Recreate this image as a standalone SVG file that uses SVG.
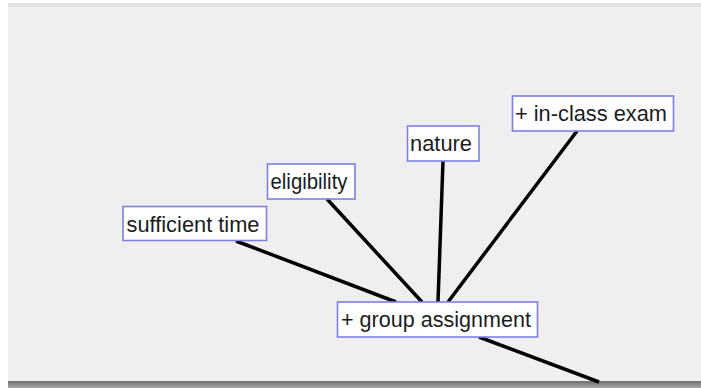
<svg xmlns="http://www.w3.org/2000/svg" width="701" height="388" viewBox="0 0 701 388">
<defs>
<linearGradient id="lsh" x1="0" y1="0" x2="1" y2="0">
<stop offset="0" stop-color="#ffffff"/>
<stop offset="1" stop-color="#d6d6d6"/>
</linearGradient>
<linearGradient id="bsh" x1="0" y1="0" x2="0" y2="1">
<stop offset="0" stop-color="#6e6e6e"/>
<stop offset="1" stop-color="#a8a8a8"/>
</linearGradient>
</defs>
<style>
.box{fill:#ffffff;stroke:#7f7fe0;stroke-width:1.6}
.lbl{font-family:"Liberation Sans",Arial,sans-serif;font-size:22.5px;fill:#1c1c1c}
.edge{stroke:#000000;stroke-width:3.5;stroke-linecap:butt;fill:none}
</style>
<rect x="0" y="0" width="701" height="388" fill="#ffffff"/>
<rect x="3" y="3" width="698" height="382" fill="url(#lsh)"/>
<rect x="8" y="3" width="693" height="5" fill="#e2e2e2"/>
<rect x="8" y="7" width="693" height="375" fill="#efefef"/>
<rect x="8" y="381" width="693" height="7" fill="url(#bsh)"/>
<g id="connectors">
<line class="edge" x1="236" y1="241" x2="396" y2="302"/>
<line class="edge" x1="327" y1="199" x2="422" y2="302"/>
<line class="edge" x1="443" y1="161" x2="438" y2="302"/>
<line class="edge" x1="577" y1="131" x2="448" y2="302"/>
<line class="edge" x1="479" y1="337" x2="599" y2="382"/>
</g>
<g id="node-sufficient-time">
<rect class="box" x="123" y="206.5" width="143.5" height="34"/>
<text class="lbl" x="126.5" y="232" textLength="133" lengthAdjust="spacingAndGlyphs">sufficient time</text>
</g>
<g id="node-eligibility">
<rect class="box" x="267.5" y="164" width="87.5" height="35"/>
<text class="lbl" x="270.5" y="189" textLength="77" lengthAdjust="spacingAndGlyphs">eligibility</text>
</g>
<g id="node-nature">
<rect class="box" x="407.5" y="126" width="71.5" height="35"/>
<text class="lbl" x="410" y="151" textLength="62" lengthAdjust="spacingAndGlyphs">nature</text>
</g>
<g id="node-in-class-exam">
<rect class="box" x="512.5" y="96" width="161" height="35"/>
<text class="lbl" x="515" y="121" textLength="152" lengthAdjust="spacingAndGlyphs">+ in-class exam</text>
</g>
<g id="node-group-assignment">
<rect class="box" x="337.5" y="302" width="200" height="35"/>
<text class="lbl" x="341" y="327.3" textLength="190" lengthAdjust="spacingAndGlyphs">+ group assignment</text>
</g>
</svg>
